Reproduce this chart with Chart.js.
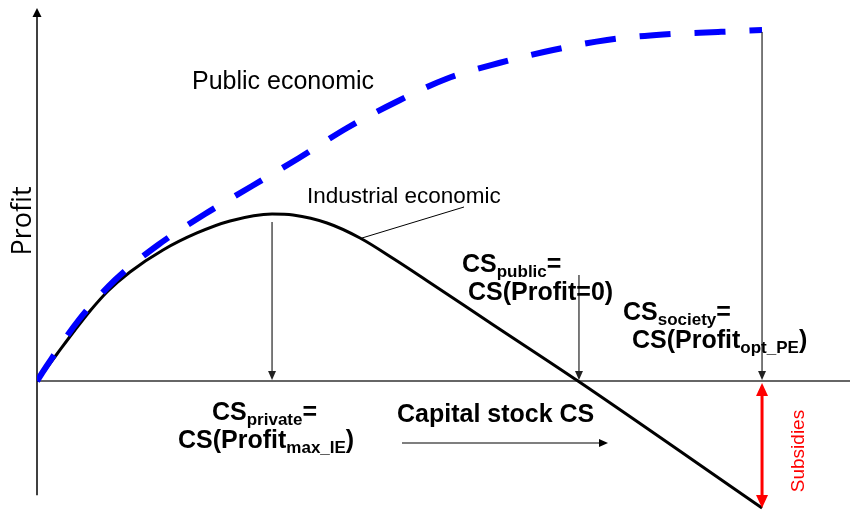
<!DOCTYPE html>
<html>
<head>
<meta charset="utf-8">
<script src="https://cdn.jsdelivr.net/npm/chart.js@4/dist/chart.umd.min.js"></script>
<style>
  html, body { margin: 0; padding: 0; background: #ffffff; }
  #wrap { width: 850px; height: 511px; position: relative; }
</style>
</head>
<body>
<div id="wrap"><canvas id="c" width="850" height="511"></canvas></div>
<script>
// ---- Data (arbitrary units) ----
const xRange = [0, 100];
const yRange = [-34.85, 100];
const yAxisBottom = -30.6;

const industrialX = [0, 2.46, 4.67, 6.52, 8.73, 11.44, 15.50, 19.68, 23.74, 28.91, 31.49, 35.67, 39.73, 43.91, 47.97, 56.09, 66.54, 89.18];
const industrialY = [0, 7.24, 13.67, 18.77, 24.13, 29.22, 35.12, 39.68, 42.90, 44.77, 44.50, 42.36, 38.34, 32.71, 26.9, 15.1, 0, -34.05];

const publicX = [0, 1.11, 5.04, 9.59, 14.88, 20.66, 26.45, 32.23, 38.13, 44.16, 50.31, 56.83, 63.47, 70.11, 77.0, 83.76, 89.18];
const publicY = [0, 3.75, 16.09, 27.08, 36.46, 44.77, 52.28, 59.79, 67.83, 74.80, 80.97, 85.25, 88.74, 91.42, 92.90, 93.57, 94.10];

const csPublicArrowTop = 28.4; // y where the CS_public arrow starts

const toPts = (xs, ys) => xs.map((x, i) => ({ x: x, y: ys[i] }));

// ---- drawing helpers ----
function arrowHead(ctx, x1, y1, x2, y2, len, half, color) {
  const a = Math.atan2(y2 - y1, x2 - x1);
  ctx.save();
  ctx.fillStyle = color;
  ctx.beginPath();
  ctx.moveTo(x2, y2);
  ctx.lineTo(x2 - len * Math.cos(a) + half * Math.sin(a), y2 - len * Math.sin(a) - half * Math.cos(a));
  ctx.lineTo(x2 - len * Math.cos(a) - half * Math.sin(a), y2 - len * Math.sin(a) + half * Math.cos(a));
  ctx.closePath();
  ctx.fill();
  ctx.restore();
}
function arrow(ctx, x1, y1, x2, y2, o) {
  const color = o.color || '#000', w = o.width || 1, len = o.len || 9, half = o.half || 4;
  const a = Math.atan2(y2 - y1, x2 - x1);
  let sx = x1, sy = y1, ex = x2 - (len - 1) * Math.cos(a), ey = y2 - (len - 1) * Math.sin(a);
  if (o.both) { sx = x1 + (len - 1) * Math.cos(a); sy = y1 + (len - 1) * Math.sin(a); }
  ctx.save();
  ctx.strokeStyle = color; ctx.lineWidth = w;
  ctx.beginPath(); ctx.moveTo(sx, sy); ctx.lineTo(ex, ey); ctx.stroke();
  ctx.restore();
  arrowHead(ctx, x1, y1, x2, y2, len, half, color);
  if (o.both) arrowHead(ctx, x2, y2, x1, y1, len, half, color);
}
const FAM = '"Liberation Sans", Arial, sans-serif';
function rich(ctx, x, y, parts) {
  let cx = x;
  ctx.save();
  ctx.fillStyle = '#000';
  ctx.textBaseline = 'alphabetic';
  ctx.textAlign = 'left';
  parts.forEach(p => {
    const sub = Array.isArray(p);
    const t = sub ? p[0] : p;
    ctx.font = sub ? 'bold 17px ' + FAM : 'bold 25px ' + FAM;
    ctx.fillText(t, cx, sub ? y + 5 : y);
    cx += ctx.measureText(t).width;
  });
  ctx.restore();
}

const overlay = {
  id: 'overlay',
  beforeDatasetsDraw(chart) {
    const ctx = chart.ctx, xs = chart.scales.x, ys = chart.scales.y;
    const X = v => xs.getPixelForValue(v), Y = v => ys.getPixelForValue(v);
    const ox = X(0), oy = Y(0);
    ctx.save();
    ctx.strokeStyle = '#333'; ctx.lineWidth = 1.5;
    ctx.beginPath(); ctx.moveTo(ox, oy); ctx.lineTo(chart.chartArea.right, oy); ctx.stroke();
    ctx.restore();
    arrow(ctx, ox, Y(yAxisBottom), ox, chart.chartArea.top, { color: '#000', width: 1.5, len: 9, half: 4.5 });
  },
  afterDatasetsDraw(chart) {
    const ctx = chart.ctx, xs = chart.scales.x, ys = chart.scales.y;
    const X = v => xs.getPixelForValue(v), Y = v => ys.getPixelForValue(v);
    const oy = Y(0);
    let pk = 0;
    industrialY.forEach((v, i) => { if (v > industrialY[pk]) pk = i; });
    const pxPeak = X(industrialX[pk]);
    arrow(ctx, pxPeak, Y(industrialY[pk]) + 8, pxPeak, oy - 1, { color: '#222', width: 1.2, len: 9, half: 4 });
    const zi = industrialY.findIndex((v, i) => i > 0 && v === 0);
    const pxZero = X(industrialX[zi]) + 1;
    arrow(ctx, pxZero, Y(csPublicArrowTop), pxZero, oy - 1, { color: '#222', width: 1.2, len: 9, half: 4 });
    const li = industrialX.length - 1;
    const pxEnd = X(industrialX[li]);
    arrow(ctx, pxEnd, Y(publicY[publicY.length - 1]) + 2, pxEnd, oy - 1, { color: '#222', width: 1.2, len: 9, half: 4 });
    arrow(ctx, pxEnd, oy + 2, pxEnd, Y(industrialY[li]), { color: '#ff0000', width: 3, len: 13, half: 6, both: true });
    ctx.save();
    ctx.strokeStyle = '#000'; ctx.lineWidth = 1;
    ctx.beginPath(); ctx.moveTo(362, 238); ctx.lineTo(464, 207); ctx.stroke();
    ctx.restore();
    arrow(ctx, 402, 443, 608, 443, { color: '#000', width: 1.2, len: 9, half: 4 });

    ctx.save();
    ctx.fillStyle = '#000';
    ctx.font = '25px ' + FAM;
    ctx.fillText('Public economic', 192, 89);
    ctx.font = '22.5px ' + FAM;
    ctx.fillText('Industrial economic', 307, 203);
    ctx.font = 'bold 25px ' + FAM;
    ctx.fillText('Capital stock CS', 397, 422);
    ctx.restore();

    rich(ctx, 212, 420, ['CS', ['private'], '=']);
    rich(ctx, 178, 448, ['CS(Profit', ['max_IE'], ')']);
    rich(ctx, 462, 272, ['CS', ['public'], '=']);
    rich(ctx, 468, 300, ['CS(Profit=0)']);
    rich(ctx, 623, 320, ['CS', ['society'], '=']);
    rich(ctx, 632, 348, ['CS(Profit', ['opt_PE'], ')']);

    ctx.save();
    ctx.translate(31, 221);
    ctx.rotate(-Math.PI / 2);
    ctx.font = '27px "Open Sans", sans-serif';
    ctx.textAlign = 'center';
    ctx.textBaseline = 'alphabetic';
    ctx.fillStyle = '#000';
    ctx.fillText('Profit', 0, 0);
    ctx.restore();

    ctx.save();
    ctx.translate(804, 451);
    ctx.rotate(-Math.PI / 2);
    ctx.font = '19px ' + FAM;
    ctx.textAlign = 'center';
    ctx.fillStyle = '#ff0000';
    ctx.fillText('Subsidies', 0, 0);
    ctx.restore();
  }
};

new Chart(document.getElementById('c'), {
  type: 'scatter',
  data: {
    datasets: [
      {
        label: 'Public economic',
        data: toPts(publicX, publicY),
        showLine: true,
        borderColor: '#0000ff',
        borderWidth: 6,
        borderDash: [31, 24],
        borderCapStyle: 'butt',
        cubicInterpolationMode: 'monotone',
        pointRadius: 0,
        fill: false
      },
      {
        label: 'Industrial economic',
        data: toPts(industrialX, industrialY),
        showLine: true,
        borderColor: '#000000',
        borderWidth: 3,
        cubicInterpolationMode: 'monotone',
        pointRadius: 0,
        fill: false
      }
    ]
  },
  options: {
    responsive: false,
    animation: false,
    layout: { padding: { left: 37, right: 0, top: 8, bottom: 0 } },
    plugins: { legend: { display: false }, tooltip: { enabled: false } },
    scales: {
      x: { type: 'linear', min: xRange[0], max: xRange[1], display: false },
      y: { type: 'linear', min: yRange[0], max: yRange[1], display: false }
    }
  },
  plugins: [overlay]
});
</script>
</body>
</html>
